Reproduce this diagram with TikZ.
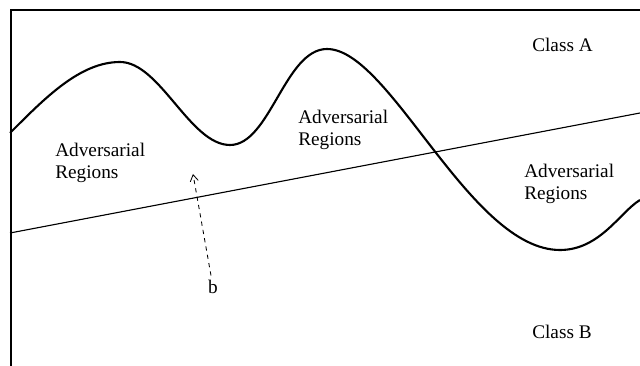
\documentclass[tikz,border=0pt]{standalone}
\usepackage{fontspec}
\setmainfont{Liberation Serif}
\usetikzlibrary{arrows.meta,positioning}

\begin{document}
\begin{tikzpicture}[
  x=0.025cm, y=-0.025cm,
  font=\fontsize{13.7}{15.7}\selectfont,
  label/.style={align=left, inner sep=0pt, anchor=north west},
  curve/.style={line width=1.5pt},
  arrow/.style={-{Straight Barb[length=1.6mm, width=2mm]}, dashed, line width=0.6pt}
]
\useasboundingbox (0,0) rectangle (640,366);
% frame
\draw[line width=1.3pt] (11,366) -- (11,10) -- (640,10);
% decision boundary of the model
\draw[curve] (10,133) .. controls (45,98) and (80,62) .. (120,62)
  .. controls (160,62) and (190,145) .. (230,145)
  .. controls (270,145) and (285,49) .. (327,49)
  .. controls (390,49) and (470,250) .. (560,250)
  .. controls (600,250) and (620,212) .. (640,200);
% true boundary
\draw[line width=0.8pt] (10,233) -- (640,113);
\node[label] (advleft) at (55,143) {Adversarial\\Regions};
\node[label] (advmid) at (298,110) {Adversarial\\Regions};
\node[label] (advright) at (524,164) {Adversarial\\Regions};
\node[label] (classa) at (532,38) {Class A};
\node[label] (classb) at (532,325) {Class B};
\node[inner sep=1pt] (b) at (213,287) {b};
\coordinate (tip) at (193,174);
\draw[arrow] (b.north) ++(-2,-3) -- (tip);
\end{tikzpicture}
\end{document}
